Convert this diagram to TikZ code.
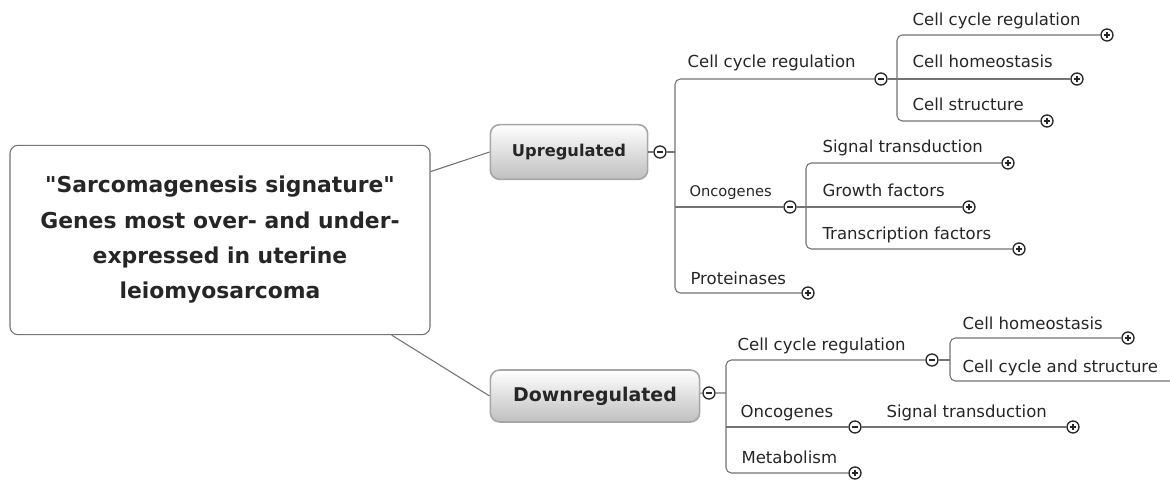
\documentclass[tikz,border=0pt]{standalone}
\usepackage{fontspec}
\setmainfont{DejaVu Sans}[Ligatures=TeXOff]
\usetikzlibrary{positioning}

\begin{document}
\begin{tikzpicture}[x=0.75pt,y=-0.75pt,line width=0.8pt]
\tikzstyle{root} = [draw=black!55,rounded corners=6pt,fill=white,minimum width=315pt,minimum height=142pt,align=center,text=black!85,font=\fontsize{16.4}{26.5}\selectfont\bfseries]
\tikzstyle{topic} = [draw=black!35,rounded corners=7pt,top color=white,bottom color=black!25,line width=1.2pt,text=black!85]
\tikzstyle{leaf} = [anchor=base west,inner sep=0pt,text=black!85,font=\fontsize{12.4}{14}\selectfont]
\tikzstyle{branch} = [draw=black!55,rounded corners=4pt]
\tikzstyle{open} = [circle,draw=black!85,fill=white,line width=1pt,minimum size=9pt,inner sep=0pt,
  path picture={\draw[line width=0.9pt] (path picture bounding box.center) +(-2.2pt,0) -- +(2.2pt,0);}]
\tikzstyle{shut} = [circle,draw=black!85,fill=white,line width=1pt,minimum size=9pt,inner sep=0pt,
  path picture={\draw[line width=0.9pt] (path picture bounding box.center) +(-2.2pt,0) -- +(2.2pt,0)
    (path picture bounding box.center) +(0,-2.2pt) -- +(0,2.2pt);}]
\useasboundingbox (0,0) rectangle (1170,481);

    % root and the two main topics
    \node[root] (sig) at (220,240) {"Sarcomagenesis signature"\\Genes most over- and under-\\expressed in uterine\\leiomyosarcoma};
    \node[topic,minimum width=118pt,minimum height=41pt,font=\fontsize{12.2}{14}\selectfont\bfseries] (up) at (569,152) {Upregulated};
    \node[topic,minimum width=157pt,minimum height=39pt,font=\fontsize{14.2}{16}\selectfont\bfseries] (down) at (595,396) {Downregulated};
    \draw[branch] (sig.18) -- (up.west);
    \draw[branch] (sig.-29.5) -- (down.west);

    % upregulated
    \node[open] (upm) at (660,152) {};
    \coordinate (upsp) at (675,152);
    \node[open] (uccm) at (881,79) {};
    \node[open] (uonm) at (790,207) {};
    \node[shut] (uprp) at (808,293) {};
    \node[leaf] (uccr) at (687,68) {Cell cycle regulation};
    \node[leaf,font=\fontsize{11}{13}\selectfont] (uonc) at (689,196) {Oncogenes};
    \node[leaf] (upro) at (690,284) {Proteinases};
    \draw[branch] (up) -- (upm) -- (upsp);
    \draw[branch] (uccm) -- (upsp |- uccm) -- (upsp |- uprp) -- (uprp);
    \draw[branch] (upsp |- uonm) -- (uonm);

    % upregulated / cell cycle regulation
    \coordinate (uccsp) at (897,79);
    \node[shut] (ucc1p) at (1107,35) {};
    \node[shut] (ucc2p) at (1077,79) {};
    \node[shut] (ucc3p) at (1047,121) {};
    \node[leaf] (ucc1) at (912,26) {Cell cycle regulation};
    \node[leaf] (ucc2) at (912,68) {Cell homeostasis};
    \node[leaf] (ucc3) at (912,111) {Cell structure};
    \draw[branch] (ucc1p) -- (uccsp |- ucc1p) -- (uccsp |- ucc3p) -- (ucc3p);
    \draw[branch] (uccm) -- (ucc2p);

    % upregulated / oncogenes
    \coordinate (uonsp) at (806,207);
    \node[shut] (uon1p) at (1008,163) {};
    \node[shut] (uon2p) at (969,207) {};
    \node[shut] (uon3p) at (1019,249) {};
    \node[leaf] (uon1) at (822,153) {Signal transduction};
    \node[leaf] (uon2) at (822,196) {Growth factors};
    \node[leaf] (uon3) at (822,239) {Transcription factors};
    \draw[branch] (uon1p) -- (uonsp |- uon1p) -- (uonsp |- uon3p) -- (uon3p);
    \draw[branch] (uonm) -- (uon2p);

    % downregulated
    \node[open] (dnm) at (709,393) {};
    \coordinate (dnsp) at (726,393);
    \node[open] (dccm) at (932,360) {};
    \node[open] (donm) at (855,427) {};
    \node[shut] (dmep) at (855,473) {};
    \node[leaf] (dccr) at (737,350) {Cell cycle regulation};
    \node[leaf] (donc) at (740,417) {Oncogenes};
    \node[leaf] (dmet) at (741,463) {Metabolism};
    \draw[branch] (down) -- (dnm) -- (dnsp);
    \draw[branch] (dccm) -- (dnsp |- dccm) -- (dnsp |- dmep) -- (dmep);
    \draw[branch] (dnsp |- donm) -- (donm);

    % downregulated / cell cycle regulation
    \coordinate (dccsp) at (950,360);
    \coordinate (dcc2e) at (1172,381);
    \node[shut] (dcc1p) at (1128,338) {};
    \node[leaf] (dcc1) at (962,329) {Cell homeostasis};
    \node[leaf] (dcc2) at (962,372) {Cell cycle and structure};
    \draw[branch] (dcc1p) -- (dccsp |- dcc1p) -- (dccsp |- dcc2e) -- (dcc2e);
    \draw[branch] (dccm) -- (dccsp);

    % downregulated / oncogenes
    \node[shut] (don1p) at (1073,427) {};
    \node[leaf] (don1) at (886,417) {Signal transduction};
    \draw[branch] (donm) -- (don1p);
\end{tikzpicture}
\end{document}
